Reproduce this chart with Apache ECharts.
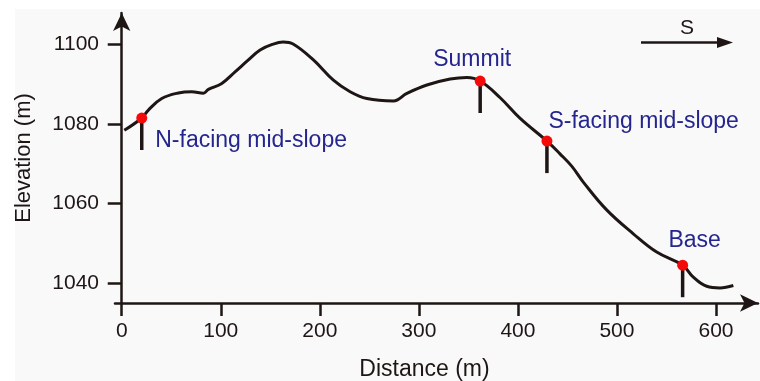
<!DOCTYPE html>
<html>
<head>
<meta charset="utf-8">
<script src="https://cdn.jsdelivr.net/npm/echarts@6/dist/echarts.min.js"></script>
<style>
  html, body { margin: 0; padding: 0; background: #fff; }
  #chart { width: 760px; height: 381px; }
</style>
</head>
<body>
<div id="chart"></div>
<script>
// profile of the hillslope, distance (m) vs elevation (m)
const dist = [2.6, 20.2, 26.9, 40.4, 57.2, 70.7, 82.4, 87.5, 101, 114.4, 127.9, 139.7, 152, 163, 173,
  193.5, 213.7, 230.6, 247.5, 274.3, 287.9, 308.1, 331.6, 348.5, 361.9, 382.1, 402.3, 429.3, 442.5,
  454.3, 466.0, 489.6, 516.5, 540.1, 566.3, 577.1, 590.6, 604.0, 617.5]
const elev = [1078.4, 1081.5, 1083.5, 1086.4, 1087.8, 1088.1, 1087.7, 1088.7, 1090.2, 1093.1, 1096.1, 1098.6, 1100.0, 1100.6, 1100.1,
  1096.1, 1091.0, 1088.1, 1086.4, 1085.8, 1087.7, 1089.8, 1091.3, 1091.7, 1090.8, 1086.6, 1081.4, 1075.7, 1072.5,
  1069.4, 1065.4, 1058.4, 1052.4, 1047.8, 1044.5, 1041.5, 1039.2, 1038.8, 1039.4]

// sampling sites
const siteNames = ['N-facing mid-slope', 'Summit', 'S-facing mid-slope', 'Base']
const siteDist = [20.2, 361.9, 429.3, 566.3]
const siteElev = [1081.5, 1090.8, 1075.7, 1044.5]

const xTicks = [0, 100, 200, 300, 400, 500, 600]
const yTicks = [1040, 1060, 1080, 1100]

const ink = '#1e1614'
const blue = '#25258f'
const font = 'Liberation Sans, Arial, sans-serif'

// label placement for each site
const labelPos = [
  { position: 'right', offset: [3, 23] },
  { position: 'top', offset: [-8, 1] },
  { position: 'right', offset: [-9, -19] },
  { position: 'top', offset: [12, -3] }
]

const chart = echarts.init(document.getElementById('chart'))

chart.setOption({
  animation: false,
  grid: { left: 115, top: 13, width: 643, bottom: 78, outerBoundsMode: 'none', containLabel: false },
  xAxis: {
    type: 'value',
    min: -6.8,
    max: 642.4,
    name: 'Distance (m)',
    nameLocation: 'middle',
    nameGap: 55,
    nameTextStyle: { color: ink, fontSize: 23, fontFamily: font, padding: [0, 24, 0, 0] },
    splitLine: { show: false },
    axisLine: { lineStyle: { color: ink, width: 2.5 }, symbol: ['none', 'arrow'], symbolSize: [13, 18] },
    axisTick: { customValues: xTicks, length: 13, lineStyle: { color: ink, width: 2.5 } },
    axisLabel: { customValues: xTicks, margin: 18, color: ink, fontSize: 21, fontFamily: font }
  },
  yAxis: {
    type: 'value',
    min: 1035,
    max: 1107.9,
    name: 'Elevation (m)',
    nameLocation: 'middle',
    nameGap: 80,
    nameTextStyle: { color: ink, fontSize: 22, fontFamily: font },
    splitLine: { show: false },
    axisLine: { show: true, lineStyle: { color: ink, width: 2.5 }, symbol: ['none', 'arrow'], symbolSize: [13, 18] },
    axisTick: { show: true, customValues: yTicks, length: 14, lineStyle: { color: ink, width: 2.5 } },
    axisLabel: { customValues: yTicks, margin: 16, color: ink, fontSize: 21, fontFamily: font, formatter: v => String(v) }
  },
  graphic: [
    { type: 'rect', z: -100, silent: true, shape: { x: 15, y: 9, width: 745, height: 372 }, style: { fill: '#f9f9f9' } },
    { type: 'line', shape: { x1: 641, y1: 42.5, x2: 722, y2: 42.5 }, style: { stroke: ink, lineWidth: 2.5 } },
    { type: 'polygon', shape: { points: [[717, 37], [733, 42.5], [717, 48]] }, style: { fill: ink } },
    { type: 'text', x: 687, y: 28, style: { text: 'S', fill: ink, font: '21px ' + font, align: 'center', verticalAlign: 'middle' } }
  ],
  series: [
    {
      type: 'line',
      data: dist.map((d, i) => [d, elev[i]]),
      smooth: 0.4,
      symbol: 'none',
      lineStyle: { color: ink, width: 3 },
      z: 2
    },
    {
      // short vertical bars below each site
      type: 'scatter',
      data: siteDist.map((d, i) => [d, siteElev[i]]),
      symbol: 'rect',
      symbolSize: [3.5, 32],
      symbolOffset: [0, 16],
      itemStyle: { color: ink, opacity: 1 },
      z: 3
    },
    {
      type: 'scatter',
      data: siteDist.map((d, i) => ({
        value: [d, siteElev[i]],
        label: Object.assign({ show: true, formatter: siteNames[i] }, labelPos[i])
      })),
      symbol: 'circle',
      symbolSize: 11,
      itemStyle: { color: '#f50a0a', opacity: 1 },
      label: { color: blue, fontSize: 23, fontFamily: font },
      z: 4
    }
  ]
})
</script>
</body>
</html>
